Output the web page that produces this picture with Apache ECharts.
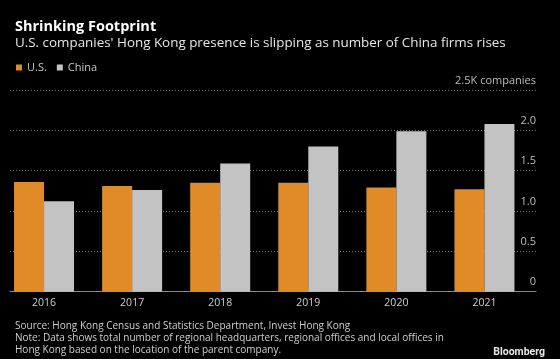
<!DOCTYPE html>
<html>
<head>
<meta charset="utf-8">
<script src="https://cdn.jsdelivr.net/npm/echarts@6/dist/echarts.min.js"></script>
<style>
html,body{margin:0;padding:0;background:#000;}
#c{width:560px;height:359px;}
</style>
</head>
<body>
<div id="c"></div>
<script>
const years = ['2016','2017','2018','2019','2020','2021'];
const usValues = [1.36, 1.31, 1.35, 1.35, 1.29, 1.27];
const chinaValues = [1.12, 1.26, 1.59, 1.80, 1.99, 2.08];
const yTicks = [0, 0.5, 1.0, 1.5, 2.0, 2.5];
const yTickLabels = ['0', '0.5', '1.0', '1.5', '2.0', '2.5K companies'];

const FONT = '"Open Sans", "Noto Sans", sans-serif';
const chart = echarts.init(document.getElementById('c'), null, {renderer: 'canvas'});
chart.setOption({
  backgroundColor: '#000',
  animation: false,
  textStyle: {fontFamily: FONT},
  title: [
    {text: 'Shrinking Footprint', left: 10, top: 14, textStyle: {color: '#fff', fontSize: 14.5, fontWeight: 'bold', fontFamily: FONT}},
    {text: "U.S. companies' Hong Kong presence is slipping as number of China firms rises", left: 10, top: 32, textStyle: {color: '#e6e6e6', fontSize: 13.4, fontWeight: 'normal', fontFamily: FONT}},
    {text: 'Source: Hong Kong Census and Statistics Department, Invest Hong Kong\nNote: Data shows total number of regional headquarters, regional offices and local offices in\nHong Kong based on the location of the parent company.', left: 10, top: 315.5, textStyle: {color: '#cfcfcf', fontSize: 10, lineHeight: 11.7, fontWeight: 'normal', fontFamily: FONT}},
    {text: 'Bloomberg', right: 10, top: 342, textStyle: {color: '#e6e6e6', fontSize: 10.5, fontWeight: 'bold', fontFamily: 'Roboto, sans-serif'}}
  ],
  legend: {
    left: 11, top: 57, icon: 'rect', itemWidth: 6, itemHeight: 6, itemGap: 10,
    textStyle: {color: '#c8c8c8', fontSize: 11, fontFamily: FONT},
    data: ['U.S.', 'China']
  },
  grid: [
    {left: 10, right: 24, top: 90, bottom: 67.3},
    {left: -2.5, right: 31.5, top: 90, bottom: 67.3}
  ],
  xAxis: [
    {type: 'category', gridIndex: 0, data: years, axisLine: {show: true, lineStyle: {color: '#8a8a8a', width: 1}}, axisTick: {show: false}, axisLabel: {show: false}},
    {type: 'category', gridIndex: 1, data: years, axisLine: {show: false}, axisTick: {show: false},
     axisLabel: {color: '#cfcfcf', fontSize: 10.5, margin: 6, fontFamily: FONT}}
  ],
  yAxis: [
    {type: 'value', gridIndex: 0, position: 'right', min: 0, max: 2.5, interval: 0.5,
     axisLine: {show: false}, axisTick: {show: false},
     splitLine: {show: true, lineStyle: {color: '#7a7a7a', type: [1, 2], width: 1}},
     axisLabel: {inside: true, margin: 0, color: '#bdbdbd', fontSize: 11, fontFamily: FONT, verticalAlign: 'bottom', padding: [0,0,4,0],
       formatter: function(v){ const i = yTicks.findIndex(t => Math.abs(t - v) < 1e-9); return i >= 0 ? yTickLabels[i] : ''; }}
    },
    {type: 'value', gridIndex: 1, min: 0, max: 2.5, interval: 0.5, show: false, splitLine: {show: false}}
  ],
  series: [
    {name: 'U.S.', type: 'bar', xAxisIndex: 1, yAxisIndex: 1, data: usValues, barWidth: 30, barGap: '0%', itemStyle: {color: '#e08b28'}},
    {name: 'China', type: 'bar', xAxisIndex: 1, yAxisIndex: 1, data: chinaValues, barWidth: 30, barGap: '0%', itemStyle: {color: '#c3c3c3'}}
  ]
});
</script>
</body>
</html>
